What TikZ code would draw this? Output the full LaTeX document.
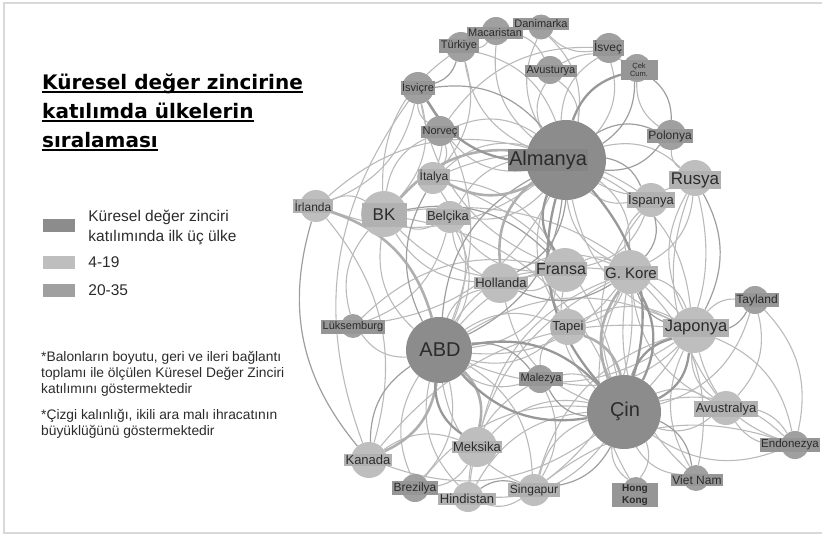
\documentclass[tikz,border=0pt]{standalone}
\usepackage{fontspec}
\setmainfont{Liberation Sans}
\newfontfamily\baslikfont{DejaVu Sans}
\usetikzlibrary{positioning}
\pgfdeclarelayer{bg}
\pgfsetlayers{bg,main}

\definecolor{ustgri}{HTML}{8C8C8C}
\definecolor{acikgri}{HTML}{BEBEBE}
\definecolor{ortagri}{HTML}{A0A0A0}
\definecolor{cizgi}{HTML}{BABABA}
\definecolor{koyucizgi}{HTML}{9E9E9E}
\definecolor{yazi}{HTML}{2B2B2B}

\newcommand\altcizgi[1]{\setbox0=\hbox{#1}\rlap{\rule[-3.5pt]{\wd0}{1.7pt}}\box0}

\tikzset{
  fs/.style={font=\fontsize{#1}{#1}\selectfont},
  ilkuc/.style={circle, fill=ustgri, inner sep=0pt, minimum size=#1},
  grupA/.style={circle, fill=acikgri, inner sep=0pt, minimum size=#1},
  grupB/.style={circle, fill=ortagri, inner sep=0pt, minimum size=#1},
  etiket/.style={inner sep=1.5pt, text=yazi, fs=11},
  etiketU/.style={etiket, fill=ustgri!95!black},
  etiketA/.style={etiket, fill=acikgri!93!black},
  etiketB/.style={etiket, fill=ortagri!94!black},
  bag/.style={draw=cizgi, line width=1.1pt, bend left=28},
  koyubag/.style={draw=koyucizgi, line width=1.2pt, bend left=28},
  kalinbag/.style={draw=acikgri!92!black, line width=2.6pt, bend left=28},
  koyukalin/.style={draw=ortagri!95!black, line width=2.3pt, bend left=28},
  kutu/.style={fill=#1, minimum width=32pt, minimum height=13pt, inner sep=0pt}
}

\begin{document}
\begin{tikzpicture}[x=1pt, y=-1pt]
  \useasboundingbox (0,0) rectangle (822,535);
  \draw[black!15, line width=1.2pt] (4,3) rectangle (826,533);

  % baslik
  \node (baslik) [anchor=base west, align=left, inner sep=0pt, text=black,
    font=\baslikfont\bfseries\fontsize{20}{29}\selectfont] at (42,147)
    {\altcizgi{Küresel değer zincirine}\\ \altcizgi{katılımda ülkelerin}\\ \altcizgi{sıralaması}};

  % lejant
  \node (kutu1) [kutu=ustgri] at (59,225.5) {};
  \node (kutu2) [kutu=acikgri] at (59,262.5) {};
  \node (kutu3) [kutu=ortagri] at (59,290) {};
  \node (lej1) [right=13pt of kutu1, yshift=-2pt, align=left, inner sep=0pt, text=yazi, font=\fontsize{15.5}{20}\selectfont]
    {Küresel değer zinciri\\katılımında ilk üç ülke};
  \node (lej2) [right=13pt of kutu2, inner sep=0pt, text=yazi, font=\fontsize{15.5}{20}\selectfont] {4-19};
  \node (lej3) [right=13pt of kutu3, inner sep=0pt, text=yazi, font=\fontsize{15.5}{20}\selectfont] {20-35};

  % notlar
  \node (not1) [anchor=base west, align=left, inner sep=0pt, text=yazi, font=\fontsize{13.8}{16}\selectfont] at (41,393)
    {*Balonların boyutu, geri ve ileri bağlantı\\toplamı ile ölçülen Küresel Değer Zinciri\\katılımını göstermektedir};
  \node (not2) [anchor=base west, align=left, inner sep=0pt, text=yazi, font=\fontsize{13.8}{16}\selectfont] at (41,435)
    {*Çizgi kalınlığı, ikili ara malı ihracatının\\büyüklüğünü göstermektedir};

  % ulkeler
  \node (alm) [ilkuc=80pt] at (566,160) {};
  \node (abd) [ilkuc=66pt] at (439,350) {};
  \node (cin) [ilkuc=74pt] at (624,412) {};
  \node (tur) [grupB=30pt] at (461,47) {};
  \node (mac) [grupB=28pt] at (496,31) {};
  \node (dan) [grupB=25pt] at (541,27) {};
  \node (isv) [grupB=30pt] at (609,48) {};
  \node (cek) [grupB=28pt] at (637,68) {};
  \node (avu) [grupB=28pt] at (550,70) {};
  \node (isc) [grupB=32pt] at (418,88) {};
  \node (nor) [grupB=30pt] at (440,131) {};
  \node (ita) [grupA=32pt] at (433,178) {};
  \node (pol) [grupB=30pt] at (671,135) {};
  \node (rus) [grupA=36pt] at (695,178) {};
  \node (isp) [grupA=34pt] at (651,200) {};
  \node (irl) [grupA=32pt] at (316,206) {};
  \node (bk)  [grupA=46pt] at (384,214) {};
  \node (bel) [grupA=32pt] at (450,217) {};
  \node (hol) [grupA=40pt] at (500,283) {};
  \node (fra) [grupA=44pt] at (565,270) {};
  \node (kor) [grupA=44pt] at (630,272) {};
  \node (tap) [grupA=36pt] at (568,327) {};
  \node (jap) [grupA=46pt] at (694,330) {};
  \node (tay) [grupB=28pt] at (755,300) {};
  \node (luk) [grupB=24pt] at (353,326) {};
  \node (mal) [grupB=28pt] at (540,379) {};
  \node (avs) [grupA=34pt] at (726,408) {};
  \node (end) [grupB=28pt] at (795,445) {};
  \node (vie) [grupB=26pt] at (696,478) {};
  \node (hk)  [grupB=26pt] at (636,490) {};
  \node (mek) [grupA=40pt] at (477,447) {};
  \node (kan) [grupA=36pt] at (369,460) {};
  \node (bre) [grupB=28pt] at (415,488) {};
  \node (hin) [grupA=30pt] at (468,497) {};
  \node (sin) [grupA=32pt] at (534,490) {};

  % baglantilar
  \begin{pgfonlayer}{bg}
  \foreach \a/\b in {alm/tur, tur/alm, alm/mac, alm/dan, dan/alm, alm/isv, isv/alm, alm/avu, avu/alm,
      alm/nor, nor/alm, ita/alm, alm/rus, rus/alm, isp/alm, alm/bel, bel/alm, alm/irl, irl/alm,
      alm/kor, kor/alm, alm/jap, jap/alm, alm/luk, tap/alm, abd/bre, bre/abd, hin/abd, abd/sin,
      sin/abd, mal/abd, abd/kor, kor/abd, tap/abd, abd/jap, jap/abd, abd/bk, bel/abd, abd/hol,
      abd/fra, fra/abd, isc/abd, abd/luk, ita/abd, abd/tap, cin/hk, hk/cin, vie/cin, avs/cin,
      cin/avs, end/cin, cin/end, tay/cin, mal/cin, sin/cin, hin/cin, cin/hin, bre/cin, cin/kan,
      mek/cin, rus/cin, cin/fra, bk/cin, cin/hol, ita/cin, cin/isp, kor/jap, tap/jap, jap/tay,
      avs/jap, jap/end, end/jap, vie/jap, kor/tap, kor/vie, vie/kor, hk/kor, kor/isp, rus/kor,
      tay/avs, avs/end, sin/end, mal/sin, sin/hin, kan/mek, pol/cek, avu/cek, rus/pol, isc/ita,
      nor/isc, fra/isc, isc/irl, irl/bk, fra/bk, hol/bk, bel/bk, hol/bel, fra/bel, fra/hol,
      ita/fra, ita/isp, isp/fra, tur/ita, bk/tur, mac/avu, isv/dan, nor/isv, bk/nor, luk/bk,
      bel/luk, luk/fra, mac/tur, jap/mal, sin/jap, hin/kor, mek/kor, kan/jap, avs/kor, jap/rus,
      bk/jap, isc/bk, nor/ita, hol/kor, fra/kor, tap/fra, mal/tap, kor/sin, kan/isc, irl/kan,
      avs/rus, tay/end, hin/mal, mek/bre, end/avs}
    \draw[bag] (\a) to (\b);
  \foreach \a/\b in {cek/alm, isc/alm, pol/alm, alm/pol, cek/pol, isp/kor, jap/kor, tay/jap,
      cin/vie, cin/sin, cin/mal, abd/mal, hin/sin, kan/abd, abd/ita, alm/hol, abd/alm, alm/abd,
      bk/fra, tur/isc, alm/isp, kor/hol, kan/irl, rus/jap}
    \draw[koyubag] (\a) to (\b);
  \foreach \a/\b in {abd/kan, abd/mek, irl/abd, hol/alm, bk/alm, alm/ita, tap/cin, cin/kor}
    \draw[kalinbag] (\a) to (\b);
  \foreach \a/\b in {cin/abd, abd/cin, mek/abd, kor/cin, cin/jap, jap/cin, fra/alm, alm/cin,
      cin/alm, alm/cek, alm/isc}
    \draw[koyukalin] (\a) to (\b);
  \end{pgfonlayer}

  % etiketler
  \node (e-alm) [etiketU, fs=20] at (548,160) {Almanya};
  \node (e-abd) [etiketU, fill=ustgri, fs=20] at (440,350) {ABD};
  \node (e-cin) [etiketU, fill=ustgri, fs=20] at (625,411) {Çin};
  \node (e-tur) [etiketB] at (459,46) {Türkiye};
  \node (e-mac) [etiketB] at (495,33) {Macaristan};
  \node (e-dan) [etiketB] at (541,24) {Danimarka};
  \node (e-isv) [etiketB, fs=12] at (608,48) {İsveç};
  \node (e-cek) [etiketB, fs=7.5, align=center, minimum width=37pt, minimum height=20pt] at (639,70) {Çek\\Cum.};
  \node (e-avu) [etiketB] at (551,71) {Avusturya};
  \node (e-isc) [etiketB] at (418,88) {İsviçre};
  \node (e-nor) [etiketB] at (440,132) {Norveç};
  \node (e-ita) [etiketA, fs=12] at (434,177) {İtalya};
  \node (e-pol) [etiketB, fs=12] at (670,136) {Polonya};
  \node (e-rus) [etiketA, fs=17] at (695,180) {Rusya};
  \node (e-isp) [etiketA, fs=13] at (651,200) {İspanya};
  \node (e-irl) [etiketA, fs=12] at (313,206) {İrlanda};
  \node (e-bk)  [etiketA, fs=17, minimum width=45pt, minimum height=24pt] at (384,215) {BK};
  \node (e-bel) [etiketA, fs=13] at (448,217) {Belçika};
  \node (e-hol) [etiketA, fs=13] at (501,283) {Hollanda};
  \node (e-fra) [etiketA, fs=16] at (561,269) {Fransa};
  \node (e-kor) [etiketA, fs=15] at (631,273) {G. Kore};
  \node (e-tap) [etiketA, fs=13] at (568,327) {Tapei};
  \node (e-jap) [etiketA, fs=16.5] at (696,328) {Japonya};
  \node (e-tay) [etiketB, fs=12] at (757,300) {Tayland};
  \node (e-luk) [etiketB] at (353,327) {Lüksemburg};
  \node (e-mal) [etiketB] at (541,379) {Malezya};
  \node (e-avs) [etiketA, fs=13] at (726,409) {Avustralya};
  \node (e-end) [etiketB, fs=11.5] at (790,445) {Endonezya};
  \node (e-vie) [etiketB, fs=12] at (697,480) {Viet Nam};
  \node (e-hk)  [etiketB, fs=8, font=\bfseries, align=center, minimum width=46pt, minimum height=19pt] at (635,495) {Hong\\Kong};
  \node (e-mek) [etiketA, fs=13] at (477,447) {Meksika};
  \node (e-kan) [etiketA, fs=13] at (368,460) {Kanada};
  \node (e-bre) [etiketB, fs=12] at (415,488) {Brezilya};
  \node (e-hin) [etiketA, fs=13] at (467,499) {Hindistan};
  \node (e-sin) [etiketA, fs=12] at (534,490) {Singapur};
\end{tikzpicture}
\end{document}
